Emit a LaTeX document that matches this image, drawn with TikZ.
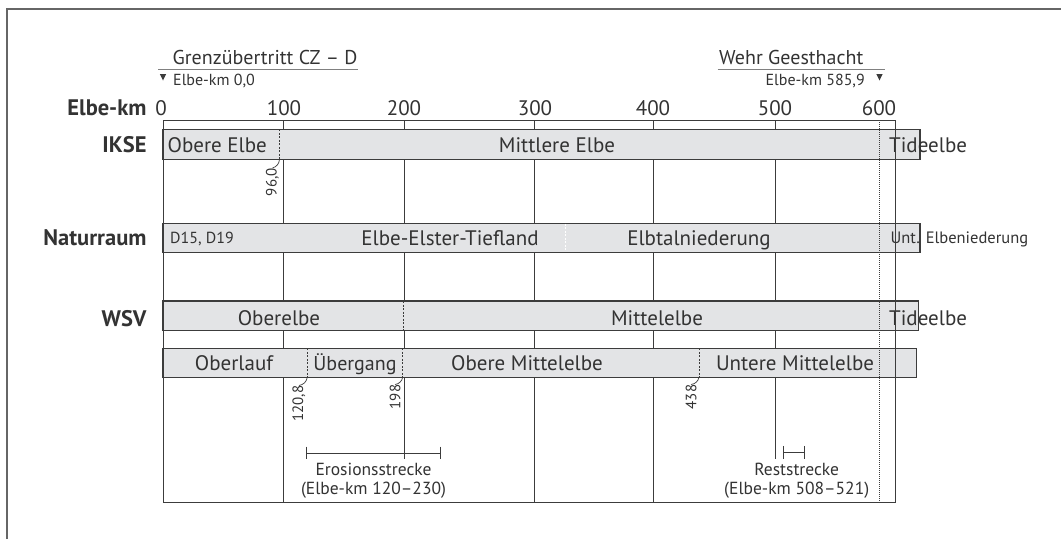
\documentclass[tikz,border=0pt]{standalone}
\usepackage{fontspec}
\setmainfont{PT Sans}
\usetikzlibrary{positioning}
\definecolor{barfill}{HTML}{E3E4E6}
\definecolor{linegray}{HTML}{3C3C3C}
\definecolor{textgray}{HTML}{333333}

\begin{document}
\begin{tikzpicture}[x=1pt,y=-1pt,
    every node/.style={text=textgray,font=\fontsize{21}{23}\selectfont,inner sep=0pt},
    rowlabel/.style={anchor=base east,font=\fontsize{22.5}{24}\selectfont\bfseries},
    title/.style={anchor=base west,font=\fontsize{20}{22}\selectfont},
    small/.style={font=\fontsize{16}{18}\selectfont},
    bar/.style={draw=linegray,fill=barfill,line width=1.1pt},
    grid/.style={draw=linegray,line width=1pt},
    cut/.style={draw=linegray,line width=0.8pt,dash pattern=on 2pt off 1.5pt},
    kmlabel/.style={font=\fontsize{15}{17}\selectfont,rotate=90,anchor=east},
    note/.style={fill=white,align=center,inner xsep=1pt,inner ysep=4pt,font=\fontsize{17.5}{19.5}\selectfont}]

    \useasboundingbox (0,0) rectangle (1061,539);
    \draw[line width=1.5pt,draw=gray!80!black] (7,539) -- (7,9) -- (1061,9);

    % Grenzpunkte oben
    \node[title] (grenze) at (172.5,64) {Grenzübertritt CZ – D};
    \node[anchor=base west,small] (km0) at (173,85) {Elbe-km 0,0};
    \draw[gray,line width=1pt] (158,69.3) -- (358,69.3);
    \fill[linegray] (159.8,74) -- (166.2,74) -- (163,80.5) -- cycle;

    \node[title] (wehr) at (719,64) {Wehr Geesthacht};
    \node[anchor=base east,small] (km585) at (865,85) {Elbe-km 585,9};
    \draw[gray,line width=1pt] (717.5,69.3) -- (885,69.3);
    \fill[linegray] (876.3,74) -- (882.7,74) -- (879.5,80.5) -- cycle;

    % Achse
    \node[rowlabel] (elbekm) at (146.7,115) {Elbe-km};
    \foreach \x/\km in {161/0,284/100,404/200,535/300,653/400,775/500,879/600}
        \node[anchor=base] (tick\km) at (\x,115) {\km};

    % Raster
    \foreach \x in {283.5,404,534.7,653.3,775}
        \draw[grid] (\x,120) -- (\x,502.7);

    % IKSE
    \filldraw[bar] (163,129.3) rectangle (920,159.3);
    \node[rowlabel] (ikse) at (146.7,152.7) {IKSE};
    \node[anchor=base west] (obere) at (167.5,152.7) {Obere Elbe};
    \node[anchor=base] (mittlere) at (557,152.7) {Mittlere Elbe};
    \node[anchor=base west] (tide1) at (889,152.7) {Tideelbe};
    \coordinate (c96t) at (279.5,129.3);
    \coordinate (c96b) at (279.5,159.3);
    \draw[cut] (c96t) -- (c96b);
    \node[kmlabel] (l96) at (272.5,168) {96,0};
    \draw[linegray,line width=0.7pt] (c96b) to[bend left=35] (l96.east);

    % Naturraum
    \filldraw[bar] (163,223.3) rectangle (920,252.3);
    \node[rowlabel] (natur) at (146.7,245.3) {Naturraum};
    \node[anchor=base west,small] (d15) at (170,243.3) {D15, D19};
    \node[anchor=base] (tiefland) at (450,245.5) {Elbe-Elster-Tiefland};
    \node[anchor=base] (elbtal) at (699,245.5) {Elbtalniederung};
    \node[anchor=base west,font=\fontsize{16.5}{18}\selectfont] (unt) at (890.5,243.5) {Unt. Elbeniederung};
    \draw[white,line width=1pt,dash pattern=on 2pt off 1.5pt] (565,223.8) -- (565,251.8);

    % WSV
    \filldraw[bar] (163,301) rectangle (918.3,330.7);
    \node[rowlabel] (wsv) at (146.7,326) {WSV};
    \node[anchor=base] (oberelbe) at (279,325) {Oberelbe};
    \node[anchor=base] (mittelelbe) at (657,325) {Mittelelbe};
    \node[anchor=base west] (tide2) at (889,325) {Tideelbe};
    \draw[cut] (403.3,301) -- (403.3,330.7);

    \filldraw[bar] (163,348.3) rectangle (916.7,377.3);
    \node[anchor=base] (oberlauf) at (234,370.7) {Oberlauf};
    \node[anchor=base,font=\fontsize{20}{22}\selectfont] (uebergang) at (355,370.7) {Übergang};
    \node[anchor=base] (oberemittel) at (527,370.7) {Obere Mittelelbe};
    \node[anchor=base] (unteremittel) at (795,370.7) {Untere Mittelelbe};
    \foreach \x/\n in {307.3/1208,402.7/198,699/438}{
        \coordinate (c\n t) at (\x,348.3);
        \coordinate (c\n b) at (\x,377.3);
        \draw[cut] (c\n t) -- (c\n b);
    }
    \node[kmlabel] (l1208) at (299,385.5) {120,8};
    \node[kmlabel] (l198) at (395,384.5) {198};
    \node[kmlabel] (l438) at (691,384.5) {438};
    \foreach \n in {1208,198,438}
        \draw[linegray,line width=0.7pt] (c\n b) to[bend left=35] (l\n.east);

    % Strecken
    \coordinate (eroA) at (306.7,453.3);
    \coordinate (eroB) at (440,453.3);
    \draw[grid] (eroA) -- (eroB);
    \draw[grid] (eroA) ++(0,-6.7) -- ++(0,13.4);
    \draw[grid] (eroB) ++(0,-6.7) -- ++(0,13.4);
    \node[note] (erosion) at (373.5,480.5) {Erosionsstrecke\\(Elbe-km 120–230)};

    \coordinate (restA) at (783.3,452.3);
    \coordinate (restB) at (804,452.3);
    \draw[grid] (restA) -- (restB);
    \draw[grid] (restA) ++(0,-6.5) -- ++(0,13);
    \draw[grid] (restB) ++(0,-6.5) -- ++(0,13);
    \node[note] (rest) at (796.7,480.5) {Reststrecke\\(Elbe-km 508–521)};

    % Rahmen und Wehr
    \draw[grid] (163,120) rectangle (895.7,502.7);
    \draw[linegray,line width=1pt,dash pattern=on 1pt off 1pt] (879.7,120) -- (879.7,502.7);
\end{tikzpicture}
\end{document}
